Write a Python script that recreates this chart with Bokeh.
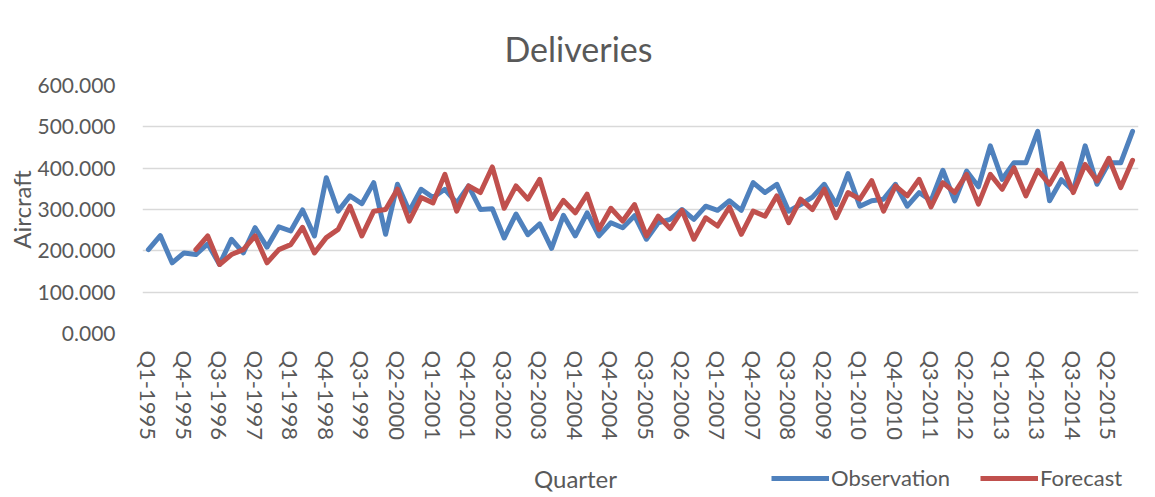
from bokeh.plotting import figure
from bokeh.layouts import column
from bokeh.models import Range1d, FixedTicker, Legend, LegendItem, Title, ColumnDataSource, Label
from bokeh.embed import file_html
from bokeh.resources import INLINE
import math

years = list(range(1995, 2016))
quarters = [f"Q{q}-{y}" for y in years for q in range(1, 5)]

observation = [
    203, 237, 171, 195, 191, 217, 167, 228, 195, 256, 209, 258, 248, 299,
    236, 377, 296, 333, 314, 365, 240, 361, 296, 349, 329, 349, 316, 357,
    300, 302, 231, 289, 239, 265, 206, 286, 236, 292, 236, 268, 256, 285,
    228, 268, 276, 300, 276, 308, 298, 321, 298, 365, 341, 361, 296, 312,
    330, 361, 312, 387, 308, 321, 325, 361, 308, 341, 321, 395, 321, 393,
    355, 454, 373, 413, 413, 489, 321, 372, 345, 454, 361, 413, 413, 489,
]
forecast = [
    None, None, None, None, 203, 236, 167, 191, 203, 236, 171, 203, 215, 257,
    195, 232, 252, 308, 236, 296, 300, 349, 272, 329, 316, 385, 296, 357,
    341, 403, 303, 357, 325, 373, 278, 322, 292, 337, 252, 303, 272, 312,
    236, 284, 254, 298, 228, 280, 260, 306, 240, 296, 284, 333, 268, 325,
    300, 349, 280, 341, 325, 370, 296, 357, 333, 373, 306, 365, 341, 385,
    313, 385, 349, 401, 333, 395, 361, 411, 341, 409, 369, 424, 353, 419,
]
y_ticks = [0, 100, 200, 300, 400, 500, 600]
series_names = ["Observation", "Forecast"]
series_colors = ["#4F81BD", "#C0504D"]
x_title = "Quarter"
y_title = "Aircraft"
chart_title = "Deliveries"

idx = list(range(len(quarters)))
src = ColumnDataSource(dict(
    x=idx,
    obs=observation,
    fc=[math.nan if v is None else v for v in forecast],
))

FONT = "Lato"
TXT = "#595959"
W = 1155
LW = 5
xr = Range1d(-0.5, len(quarters) - 0.5)

p = figure(width=W, height=457, output_backend="svg", toolbar_location=None,
           x_range=xr, y_range=Range1d(0, 600),
           min_border_left=142, min_border_right=17, min_border_top=85, min_border_bottom=124)
p.outline_line_color = None
p.background_fill_color = "white"
p.border_fill_color = "white"

for col, c in zip(["obs", "fc"], series_colors):
    p.line("x", col, source=src, line_color=c, line_width=LW, line_join="round", line_cap="round")

p.title = Title(text=chart_title, align="left", offset=362, standoff=34, text_font=FONT,
                text_font_size="34px", text_color=TXT, text_font_style="normal")

# y axis
p.yaxis.ticker = FixedTicker(ticks=y_ticks)
p.yaxis.major_label_overrides = {v: f"{v:.3f}" for v in y_ticks}
p.yaxis.axis_label = y_title
p.yaxis.axis_label_text_font = FONT
p.yaxis.axis_label_text_font_size = "24px"
p.yaxis.axis_label_text_font_style = "normal"
p.yaxis.axis_label_text_color = TXT
p.yaxis.axis_label_standoff = -2
p.yaxis.major_label_text_font = FONT
p.yaxis.major_label_text_font_size = "21px"
p.yaxis.major_label_text_color = TXT
p.yaxis.major_label_standoff = 21
p.yaxis.axis_line_color = None
p.yaxis.major_tick_line_color = None
p.yaxis.minor_tick_line_color = None

# x axis
xt = idx[::3]
p.xaxis.ticker = FixedTicker(ticks=xt)
p.xaxis.major_label_overrides = {i: quarters[i] for i in xt}
p.xaxis.major_label_orientation = "vertical"
p.xaxis.major_label_text_font = FONT
p.xaxis.major_label_text_font_size = "22px"
p.xaxis.major_label_text_color = TXT
p.xaxis.major_label_standoff = 11
p.xaxis.axis_line_color = None
p.xaxis.major_tick_line_color = None
p.xaxis.minor_tick_line_color = None

p.xgrid.grid_line_color = None
p.ygrid.ticker = FixedTicker(ticks=y_ticks)
p.ygrid.grid_line_color = "#D9D9D9"
p.ygrid.grid_line_width = 1.5

# bottom strip (its frame is aligned with the main frame by the column layout):
# x-axis title and legend on one row
H2 = 40
p2 = figure(width=W, height=H2, output_backend="svg", toolbar_location=None,
            x_range=xr, y_range=Range1d(0, 1),
            min_border_left=142, min_border_right=17, min_border_top=0, min_border_bottom=0)
p2.outline_line_color = None
p2.axis.visible = False
p2.grid.grid_line_color = None
p2.background_fill_color = "white"
p2.border_fill_color = "white"

p2.add_layout(Label(x=433, y=19, x_units="screen", y_units="screen", text=x_title,
                    text_align="center", text_baseline="middle",
                    text_font=FONT, text_font_size="24px", text_color=TXT))

sw = []
for col, c in zip(["obs", "fc"], series_colors):
    r = p2.line("x", col, source=src, line_color=c, line_width=LW, line_cap="butt")
    r.visible = False
    sw.append(r)
legend = Legend(items=[LegendItem(label=n, renderers=[r]) for n, r in zip(series_names, sw)],
                orientation="horizontal", location=(629, 6),
                label_text_font=FONT, label_text_font_size="22px", label_text_color=TXT,
                glyph_width=58, glyph_height=20, label_standoff=2, spacing=30,
                padding=0, margin=0, border_line_color=None, background_fill_alpha=0,
                inactive_fill_alpha=0)
p2.add_layout(legend, "center")

layout = column(p, p2, spacing=0)
open("out.html", "w").write(file_html(layout, INLINE))
